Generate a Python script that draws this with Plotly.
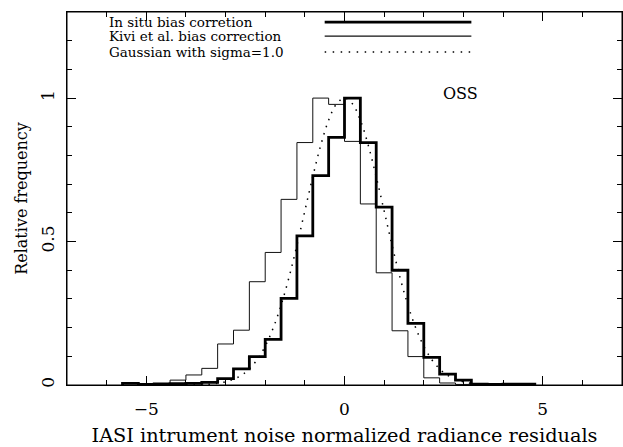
import plotly.graph_objects as go

# ---- data ----
bin_width = 0.4

insitu_left = [-5.6, -5.2, -4.8, -4.4, -4.0, -3.6, -3.2, -2.8, -2.4, -2.0, -1.6, -1.2,
               -0.8, -0.4, 0.0, 0.4, 0.8, 1.2, 1.6, 2.0, 2.4, 2.8, 3.2, 3.6, 4.0, 4.4]
insitu_freq = [0.006, 0.002, 0.004, 0.005, 0.006, 0.009, 0.022, 0.056, 0.099, 0.159, 0.302, 0.52,
               0.73, 0.863, 1.0, 0.845, 0.62, 0.40, 0.215, 0.096, 0.038, 0.017, 0.003, 0.002, 0.003, 0.003]

kivi_left = [-4.8, -4.4, -4.0, -3.6, -3.2, -2.8, -2.4, -2.0, -1.6, -1.2, -0.8, -0.4,
             0.0, 0.4, 0.8, 1.2, 1.6, 2.0, 2.4, 2.8]
kivi_freq = [0.003, 0.017, 0.035, 0.058, 0.143, 0.191, 0.36, 0.462, 0.647, 0.845, 1.0, 0.978,
             0.849, 0.631, 0.391, 0.189, 0.099, 0.025, 0.007, 0.002]

gauss_x = [-4.0, -3.8, -3.6, -3.4, -3.2, -3.0, -2.8, -2.6, -2.4, -2.2, -2.0, -1.8, -1.6, -1.4,
           -1.2, -1.0, -0.8, -0.6, -0.4, -0.2, 0.0, 0.2, 0.4, 0.6, 0.8, 1.0, 1.2, 1.4, 1.6,
           1.8, 2.0, 2.2, 2.4, 2.6, 2.8, 3.0, 3.2, 3.4, 3.6, 3.8, 4.0]
gauss_y = [0.000, 0.001, 0.002, 0.003, 0.006, 0.011, 0.020, 0.034, 0.056, 0.089, 0.135, 0.198,
           0.278, 0.375, 0.487, 0.607, 0.726, 0.835, 0.923, 0.980, 1.000, 0.980, 0.923, 0.835,
           0.726, 0.607, 0.487, 0.375, 0.278, 0.198, 0.135, 0.089, 0.056, 0.034, 0.020, 0.011,
           0.006, 0.003, 0.002, 0.001, 0.000]

legend_labels = ["In situ bias corretion", "Kivi et al. bias correction", "Gaussian with sigma=1.0"]
x_title = "IASI intrument noise normalized radiance residuals"
y_title = "Relative frequency"
panel_label = "OSS"

FONT = "DejaVu Serif"


def steps(lefts, vals):
    xs = [lefts[0]] + list(lefts) + [lefts[-1] + bin_width]
    ys = [0] + list(vals) + [0]
    return xs, ys


fig = go.Figure()

kx, ky = steps(kivi_left, kivi_freq)
fig.add_trace(go.Scatter(x=kx, y=ky, mode="lines", line=dict(color="#111", width=1, shape="hv"),
                         showlegend=False, hoverinfo="skip", cliponaxis=False))
fig.add_trace(go.Scatter(x=gauss_x, y=gauss_y, mode="lines",
                         line=dict(color="black", width=1.5, dash="1.5px,6px", shape="spline"),
                         showlegend=False, hoverinfo="skip"))
ix, iy = steps(insitu_left, insitu_freq)
fig.add_trace(go.Scatter(x=ix, y=iy, mode="lines", line=dict(color="black", width=2.8, shape="hv"),
                         showlegend=False, hoverinfo="skip", cliponaxis=False))

# legend drawn inside the plot
leg_y = [1.265, 1.216, 1.161]
leg_styles = [dict(color="black", width=2.8), dict(color="#111", width=1.1),
              dict(color="black", width=1.5, dash="1.5px,6.5px")]
for yy, st, lab in zip(leg_y, leg_styles, legend_labels):
    fig.add_shape(type="line", xref="x", yref="y", x0=-0.5, x1=3.2, y0=yy, y1=yy, line=st)
    fig.add_annotation(x=-6.0, y=yy, xref="x", yref="y", text=lab, showarrow=False,
                       xanchor="left", yanchor="middle", font=dict(family=FONT, size=13.5, color="black"))

fig.add_annotation(x=2.93, y=1.016, xref="x", yref="y", text=panel_label, showarrow=False,
                   xanchor="center", yanchor="middle", font=dict(family=FONT, size=16, color="black"))

# plot frame
fig.add_shape(type="rect", xref="paper", yref="paper", x0=0, x1=1, y0=0, y1=1,
              line=dict(color="black", width=1), layer="above")

fig.update_layout(
    width=623, height=447,
    margin=dict(l=67, r=1, t=12, b=62),
    paper_bgcolor="white", plot_bgcolor="white",
    font=dict(family=FONT, color="black"),
    showlegend=False,
)
fig.update_xaxes(
    range=[-7, 7], showgrid=False, zeroline=False, automargin=False,
    showline=True, linecolor="black", linewidth=1, mirror="allticks",
    ticks="inside", ticklen=9, tickwidth=1, tickcolor="black",
    tickvals=[-5, 0, 5], ticktext=["\u22125", "0", "5"],
    tickfont=dict(family=FONT, size=17), ticklabelstandoff=9,
    minor=dict(ticks="inside", ticklen=5, tickwidth=1, tickcolor="black", dtick=1, showgrid=False),
    title=dict(text=x_title, font=dict(family=FONT, size=19.3), standoff=10),
)
fig.update_yaxes(
    range=[0, 1.3], showgrid=False, zeroline=False, automargin=False,
    showline=True, linecolor="black", linewidth=1, mirror="allticks",
    ticks="inside", ticklen=9, tickwidth=1, tickcolor="black",
    tickvals=[0, 0.5, 1], ticktext=["0", "0.5", "1"], tickangle=-90,
    tickfont=dict(family=FONT, size=17), ticklabelstandoff=5,
    minor=dict(ticks="inside", ticklen=5, tickwidth=1, tickcolor="black", dtick=0.1, showgrid=False),
    title=dict(text=y_title, font=dict(family=FONT, size=16), standoff=6),
)

fig.write_html("out.html", config={"displayModeBar": False},
               post_script="document.body.style.margin='0';document.body.style.overflow='hidden';")
